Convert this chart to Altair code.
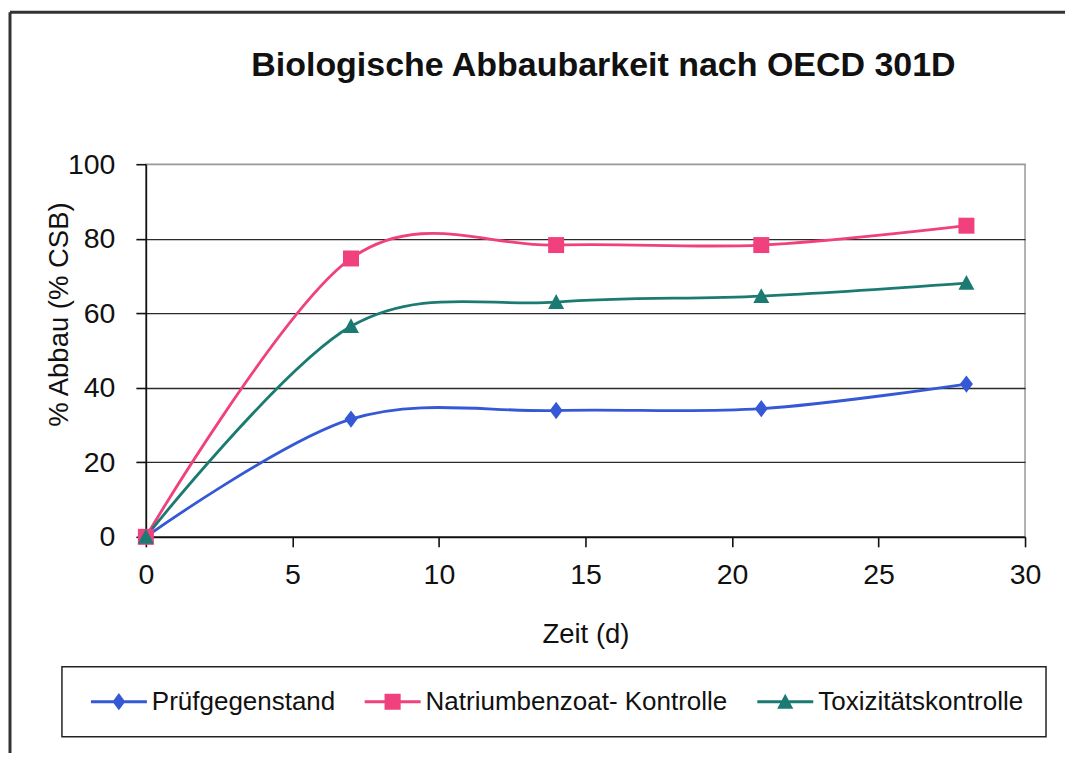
import altair as alt
import pandas as pd

# ---- data ----
days = [0, 7, 14, 21, 28]
series_names = ["Prüfgegenstand", "Natriumbenzoat- Kontrolle", "Toxizitätskontrolle"]
pruef = [0, 31.6, 33.9, 34.4, 41.0]
natrium = [0, 74.7, 78.3, 78.3, 83.5]
toxiz = [0, 56.5, 63.0, 64.6, 68.1]
x_ticks = [0, 5, 10, 15, 20, 25, 30]
y_ticks = [0, 20, 40, 60, 80, 100]
title_text = "Biologische Abbaubarkeit nach OECD 301D"

colors = ["#3558d6", "#f0407e", "#1b7b72"]
FONT = "Liberation Sans"

rows = []
for name, vals in zip(series_names, [pruef, natrium, toxiz]):
    for d, v in zip(days, vals):
        rows.append({"Zeit": d, "Abbau": v, "Reihe": name})
df = pd.DataFrame(rows)

color_scale = alt.Scale(domain=series_names, range=colors)

x_enc = alt.X(
    "Zeit:Q",
    scale=alt.Scale(domain=[0, 30], nice=False),
    axis=alt.Axis(
        values=x_ticks, grid=False, tickSize=10, labelPadding=14,
        labelFontSize=28.5, labelFlush=False, labelOverlap=False,
        title="Zeit (d)", titleFontSize=27.5, titleFontWeight="normal",
        titleX=440, titleY=106, titleBaseline="alphabetic", titleAlign="center",
    ),
)
y_enc = alt.Y(
    "Abbau:Q",
    scale=alt.Scale(domain=[0, 100], nice=False),
    axis=alt.Axis(
        values=y_ticks, tickSize=10, labelPadding=21, labelFontSize=28.5,
        gridColor=alt.condition("datum.value == 100", alt.value("#999999"), alt.value("#2a2a2a")),
        gridWidth=1.3,
        title="% Abbau (% CSB)", titleFontSize=27.5, titleFontWeight="normal",
        titleX=-78, titleY=150, titleAngle=-90, titleAlign="center",
        titleBaseline="alphabetic",
    ),
)

base = alt.Chart(df)

lines = base.mark_line(interpolate="cardinal", strokeWidth=2.8).encode(
    x=x_enc, y=y_enc,
    color=alt.Color("Reihe:N", scale=color_scale, legend=None),
)

marker_shapes = ["M0,-1L0.75,0L0,1L-0.75,0Z", "square", "M0,-1L1,0.85L-1,0.85Z"]
marker_sizes = [300, 256, 256]
markers = []
for name, shp, sz in zip(series_names, marker_shapes, marker_sizes):
    markers.append(
        base.transform_filter(alt.datum.Reihe == name)
        .mark_point(shape=shp, size=sz, filled=True, opacity=1)
        .encode(x=x_enc, y=y_enc,
                color=alt.Color("Reihe:N", scale=color_scale, legend=None))
    )

line_part = "M-0.46,-0.115L3.85,-0.115L3.85,0.115L-0.46,0.115Z "
legend_paths = [
    line_part + "M1.69,-0.66L2.18,0L1.69,0.66L1.2,0Z",
    line_part + "M1.07,-0.62L2.31,-0.62L2.31,0.62L1.07,0.62Z",
    line_part + "M1.69,-0.62L2.31,0.55L1.07,0.55Z",
]

leg = alt.Legend(
    title=None, orient="none", legendX=-84, legendY=503,
    direction="horizontal", columns=3,
    symbolSize=676, symbolOpacity=1, symbolStrokeWidth=0,
    labelOffset=42, columnPadding=22, padding=22,
    strokeColor="#222222", fillColor="white",
    labelFont=FONT, labelFontSize=26, labelColor="#111111", labelLimit=500,
)

legend_layer = base.mark_point(filled=True, opacity=0).encode(
    x=x_enc, y=y_enc,
    color=alt.Color("Reihe:N", scale=color_scale, legend=leg),
    shape=alt.Shape("Reihe:N", scale=alt.Scale(domain=series_names, range=legend_paths), legend=leg),
)

one = pd.DataFrame({"a": [0]})
frame_v = alt.Chart(one).mark_rule(color="#333333", strokeWidth=3).encode(
    x=alt.value(-136), y=alt.value(-152), y2=alt.value(640)
)
frame_h = alt.Chart(one).mark_rule(color="#333333", strokeWidth=3).encode(
    x=alt.value(-136), x2=alt.value(940), y=alt.value(-152)
)

title_mark = alt.Chart(pd.DataFrame({"t": [title_text]})).mark_text(
    font=FONT, fontSize=34, fontWeight="bold", color="#111111",
    align="center", baseline="alphabetic",
).encode(text="t:N", x=alt.value(458), y=alt.value(-88))

chart = (
    alt.layer(frame_v, frame_h, title_mark, lines, *markers, legend_layer)
    .resolve_legend(color="independent", shape="independent")
    .properties(
        width=880, height=373,
        autosize=alt.AutoSizeParams(type="none"),
        padding={"left": 138, "top": 156, "right": 40, "bottom": 216},
    )
    .configure(font=FONT, background="white")
    .configure_view(stroke="#999999", strokeWidth=1.5)
    .configure_axis(
        labelFont=FONT, titleFont=FONT, labelColor="#111111", titleColor="#111111",
        domainColor="#111111", domainWidth=1.6, tickColor="#111111", tickWidth=1.6,
    )
    .configure_legend(strokeWidth=1.5)
)

chart.save("out.html", embed_options={"renderer": "svg", "actions": False})
